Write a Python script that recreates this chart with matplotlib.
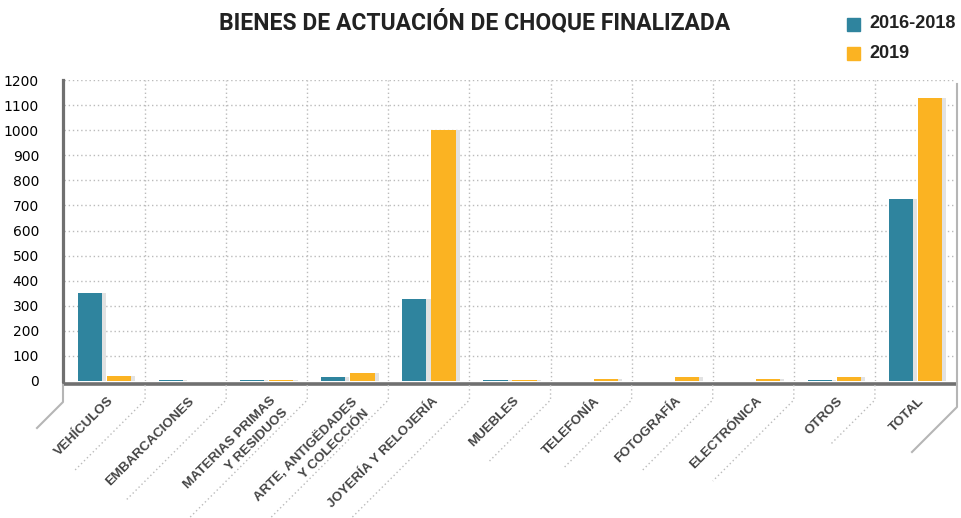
import matplotlib
matplotlib.use("Agg")
import matplotlib.pyplot as plt
import numpy as np
from matplotlib.lines import Line2D
from matplotlib.transforms import IdentityTransform

categories = ["VEHÍCULOS", "EMBARCACIONES", "MATERIAS PRIMAS\nY RESIDUOS",
              "ARTE, ANTIGËDADES\nY COLECCIÓN", "JOYERÍA Y RELOJERÍA", "MUEBLES",
              "TELEFONÍA", "FOTOGRAFÍA", "ELECTRÓNICA", "OTROS", "TOTAL"]
series_names = ["2016-2018", "2019"]
values_2016_2018 = [352, 5, 5, 16, 325, 5, 0, 0, 0, 5, 725]
values_2019 = [18, 0, 5, 32, 1000, 5, 8, 16, 8, 16, 1130]
yticks = list(range(0, 1300, 100))

BLUE = "#2F849E"
ORANGE = "#FBB322"
TXT = "#444444"
GRID = "#bbbbbb"

W, H = 961, 518
fig = plt.figure(figsize=(W / 100, H / 100), dpi=100)
ax = fig.add_axes([64 / W, (H - 381) / H, (956 - 64) / W, (381 - 80) / H])

n = len(categories)
x = np.arange(n)
off = 0.18
bw = 0.30
sh = 0.05

# shadows
ax.bar(x - off + sh, values_2016_2018, bw, color="#e2e2e2", zorder=2, linewidth=0)
ax.bar(x + off + sh, values_2019, bw, color="#e2e2e2", zorder=2, linewidth=0)
ax.bar(x - off, values_2016_2018, bw, color=BLUE, zorder=3, linewidth=0, label=series_names[0])
ax.bar(x + off, values_2019, bw, color=ORANGE, zorder=3, linewidth=0, label=series_names[1])

ax.set_xlim(-0.5, n - 0.5)
ax.set_ylim(0, 1200)
ax.set_yticks(yticks)
ax.set_yticklabels([str(v) for v in yticks], fontsize=12.5, fontweight="bold",
                   color=TXT, family="Liberation Sans")
ax.tick_params(axis="y", length=0, pad=17)
ax.set_xticks([])

for s in ["top", "right"]:
    ax.spines[s].set_visible(False)
ax.spines["left"].set_color("#707070")
ax.spines["left"].set_linewidth(2.3)
ax.spines["left"].set_position(("outward", 1))
ax.spines["bottom"].set_color("#707070")
ax.spines["bottom"].set_linewidth(2.6)
ax.spines["bottom"].set_position(("outward", 2))
ax.spines["left"].set_zorder(5)
ax.spines["bottom"].set_zorder(5)

# grid
for yv in yticks[1:]:
    ax.axhline(yv, color=GRID, lw=1, ls=(0, (1, 2)), zorder=1)
for b in np.arange(0.5, n - 0.5, 1):
    ax.axvline(b, color=GRID, lw=1, ls=(0, (1, 2)), zorder=1)

# category labels
for i, lab in enumerate(categories):
    ax.annotate(lab, xy=(i, 0), xycoords=("data", "axes fraction"),
                xytext=(2, -10), textcoords="offset points",
                rotation=45, rotation_mode="anchor", ha="right", va="top",
                multialignment="right", fontsize=9.6, fontweight="bold",
                color=TXT, family="Liberation Sans", linespacing=1.55,
                annotation_clip=False)

# separator lines below axis (display coords)
fig.canvas.draw()
sep_len = [71, 100, 125, 125, 125, 61, 68, 71, 81, 45]
for k, b in enumerate(np.arange(0.5, n - 0.5, 1)):
    px, py = ax.transData.transform((b, 0))
    L = sep_len[k]
    fig.add_artist(Line2D([px, px, px - L], [py - 4, py - 19, py - 19 - L],
                          transform=IdentityTransform(), color=GRID, lw=1,
                          ls=(0, (1, 2))))
# left solid
px, py = ax.transData.transform((-0.5, 0))
px -= 1
fig.add_artist(Line2D([px, px, px - 26], [py - 4, py - 21, py - 47],
                      transform=IdentityTransform(), color="#b5b5b5", lw=1.5))
# right solid
px, py = ax.transData.transform((n - 0.5, 1200))
px += 1
fig.add_artist(Line2D([px, px, px - 45], [py - 4, py - 327, py - 372],
                      transform=IdentityTransform(), color="#b5b5b5", lw=1.5))

# title
fig.text(475 / W, 1 - 22 / H, "BIENES DE ACTUACIÓN DE CHOQUE FINALIZADA",
         ha="center", va="center", fontsize=16.5, fontweight="bold",
         color="#222222", family="Roboto")

# legend
for j, (nm, c) in enumerate(zip(series_names, [BLUE, ORANGE])):
    yc = 24 + j * 29
    fig.patches.append(plt.Rectangle((847 / W, 1 - (yc + 7) / H), 13 / W, 13 / H,
                                     transform=fig.transFigure, color=c))
    fig.text(869 / W, 1 - yc / H, nm, ha="left", va="center", fontsize=13,
             fontweight="bold", color="#222222", family="Liberation Sans")

fig.savefig("out.png", dpi=100)
